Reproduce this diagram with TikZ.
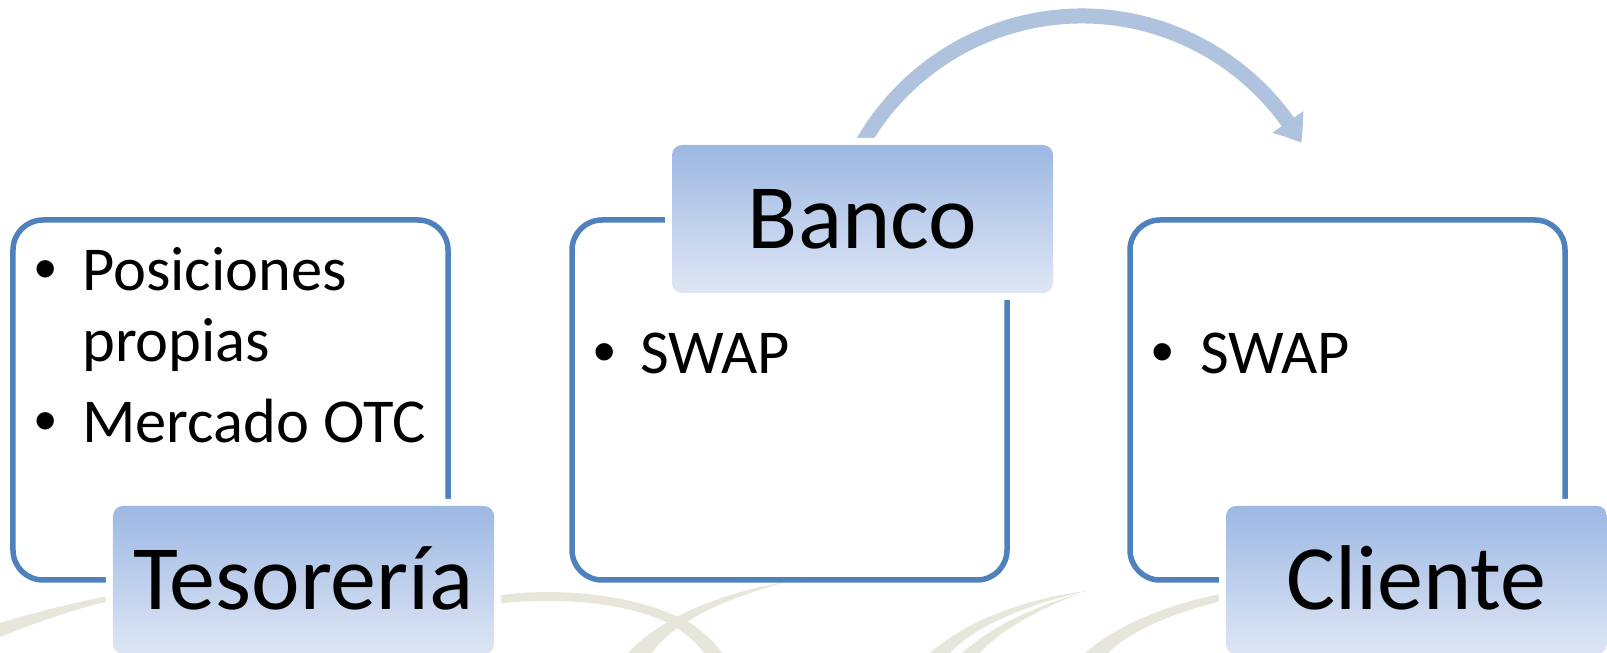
\documentclass[tikz,border=0pt]{standalone}
\usepackage{fontspec}
\setmainfont{Carlito}
\newfontfamily\bulletfont{Liberation Sans}
\usetikzlibrary{arrows.meta,bending}
\definecolor{cardblue}{RGB}{79,129,189}
\definecolor{arcblue}{RGB}{176,195,222}
\definecolor{labtop}{RGB}{157,184,227}
\definecolor{labbot}{RGB}{222,230,245}
\definecolor{swoosh}{RGB}{232,230,218}
\begin{document}
\begin{tikzpicture}[x=1bp,y=1bp,
  card/.style={draw=cardblue, line width=5.5bp, rounded corners=30bp,
    minimum width=435bp, minimum height=360bp, inner sep=0pt},
  labelbox/.style={rounded corners=10bp, top color=labtop, bottom color=labbot,
    minimum width=381bp, minimum height=148bp, inner sep=0pt,
    text height=60bp, text depth=0bp, font=\fontsize{92bp}{110bp}\selectfont,
    preaction={draw=white, line width=14bp}},
  itemtext/.style={anchor=base west, inner sep=0pt, font=\fontsize{62.5bp}{75bp}\selectfont},
  bulletmark/.style={anchor=base, inner sep=0pt, font=\bulletfont\fontsize{64bp}{75bp}\selectfont},
  swaparrow/.style={draw=arcblue, line width=15bp, -{Triangle[length=25bp,width=36bp,bend]}},
  swooshfill/.style={fill=swoosh, draw=none}]
\useasboundingbox (0,0) rectangle (1607,653);
\fill[white] (0,0) rectangle (1607,653);

% faint background swooshes
\path[swooshfill] (0,30) .. controls (40,42) and (80,52) .. (115,58) -- (115,53) .. controls (80,46) and (40,32) .. (0,16) -- cycle;
\path[swooshfill] (495,57) .. controls (560,67) and (640,58) .. (690,30) .. controls (705,20) and (715,10) .. (722,0)
  -- (704,0) .. controls (695,12) and (685,20) .. (672,28) .. controls (630,50) and (560,57) .. (495,49) -- cycle;
\path[swooshfill] (628,0) .. controls (660,35) and (720,60) .. (786,71) .. controls (725,55) and (672,30) .. (652,0) -- cycle;
\path[swooshfill] (930,0) .. controls (970,35) and (1030,55) .. (1087,62) .. controls (1032,50) and (975,28) .. (950,0) -- cycle;
\path[swooshfill] (962,0) .. controls (990,25) and (1030,45) .. (1078,59) .. controls (1030,40) and (995,18) .. (980,0) -- cycle;
\path[swooshfill] (1085,0) .. controls (1120,30) and (1170,50) .. (1235,62) -- (1235,55) .. controls (1175,42) and (1130,22) .. (1108,0) -- cycle;

% cards
\node[card] (card1) at (230.5,253) {};
\node[card] (card2) at (789.5,253) {};
\node[card] (card3) at (1347.5,253) {};

% arc arrow from Banco to Cliente
\coordinate (arcfrom) at (852.7,490.9);
\draw[swaparrow] (arcfrom) arc[start angle=155, end angle=29.9, radius=253];

% label boxes
\node[labelbox] (tesoreria) at (303.5,73) {Tesorería};
\node[labelbox] (banco) at (862.5,434) {Banco};
\node[labelbox] (cliente) at (1416.5,73) {Cliente};

% card texts
\node[bulletmark] (b1) at (46,362) {•};
\node[itemtext] (t1a) at (82,362) {Posiciones};
\node[itemtext] (t1b) at (82,291) {propias};
\node[bulletmark] (b2) at (46,210) {•};
\node[itemtext] (t2) at (82,210) {Mercado OTC};

\node[bulletmark] (b3) at (605,279) {•};
\node[itemtext] (t3) at (640,279) {SWAP};

\node[bulletmark] (b4) at (1163,279) {•};
\node[itemtext] (t4) at (1200,279) {SWAP};
\end{tikzpicture}
\end{document}
